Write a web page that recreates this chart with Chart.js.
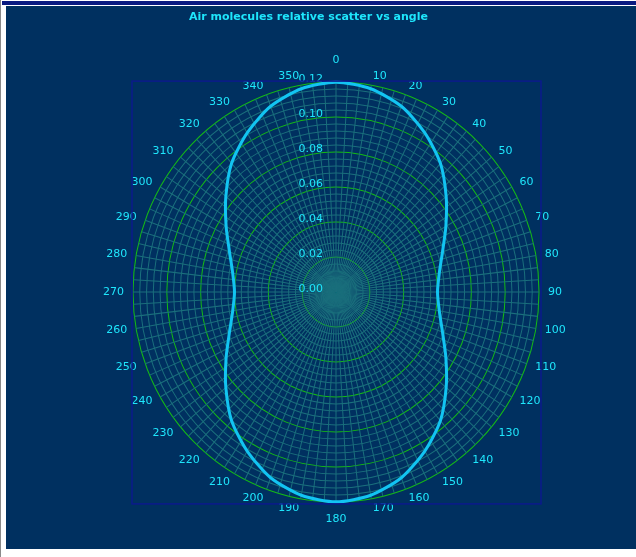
<!DOCTYPE html>
<html>
<head>
<meta charset="utf-8">
<script src="https://cdn.jsdelivr.net/npm/chart.js@4"></script>
<style>
  body { margin: 0; background: #fff; }
  #wrap { position: relative; width: 636px; height: 557px; overflow: hidden; }
  #edge { position: absolute; left: 0; top: 0; width: 1px; height: 557px; background: #8a8a8a; }
  #topline { position: absolute; left: 2px; top: 1px; width: 634px; height: 4px; background: #0a1a80; }
  #panel { position: absolute; left: 6px; top: 6px; width: 630px; height: 543px; background: #003060; }
  #title { position: absolute; left: 0; top: 10px; width: 617px; text-align: center;
           font: bold 11px 'DejaVu Sans', sans-serif; line-height: 13px; color: #1ee6fc; }
  canvas { position: absolute; left: 6px; top: 6px; }
</style>
</head>
<body>
<div id="wrap">
  <div id="edge"></div>
  <div id="topline"></div>
  <div id="panel"></div>
  <canvas id="scatterChart" width="630" height="543"></canvas>
  <div id="title">Air molecules relative scatter vs angle</div>
</div>
<script>
// Scattering angle (degrees) and relative scatter read at each labelled angle
const angleLabels = [0, 10, 20, 30, 40, 50, 60, 70, 80, 90, 100, 110, 120, 130, 140, 150, 160, 170,
                     180, 190, 200, 210, 220, 230, 240, 250, 260, 270, 280, 290, 300, 310, 320, 330, 340, 350];
const scatter = [0.120, 0.118, 0.113, 0.105, 0.096, 0.085, 0.075, 0.067, 0.062, 0.060, 0.062, 0.067,
                 0.075, 0.085, 0.096, 0.105, 0.113, 0.118, 0.120, 0.118, 0.113, 0.105, 0.096, 0.085,
                 0.075, 0.067, 0.062, 0.060, 0.062, 0.067, 0.075, 0.085, 0.096, 0.105, 0.113, 0.118];
const radialTicks = [0, 0.02, 0.04, 0.06, 0.08, 0.10, 0.12];

const spokesPerLabel = 3;   // grid spokes every 10/3 degrees
const stretchY = 1.034;     // plot is a little taller than wide
const labelColor = '#1ee6fc';
const labelFont = "11px 'DejaVu Sans', sans-serif";
const gridTeal = '#1a6f7c';
const gridGreen = '#14bc14';

// expand to one slot per spoke, data only on the labelled angles
const labels = [];
const values = [];
angleLabels.forEach((a, i) => {
    labels.push(String(a));
    values.push(scatter[i]);
    for (let k = 1; k < spokesPerLabel; k++) {
        labels.push('');
        values.push(null);
    }
});

// stretch grid + curve vertically, then frame and label on top
const polarDecor = {
    id: 'polarDecor',
    beforeDraw(chart) {
        const r = chart.scales.r;
        const ctx = chart.ctx;
        ctx.save();
        ctx.translate(r.xCenter, r.yCenter);
        ctx.scale(1, stretchY);
        ctx.translate(-r.xCenter, -r.yCenter);
    },
    afterDraw(chart) {
        const r = chart.scales.r;
        const ctx = chart.ctx;
        ctx.restore();

        const R = r.drawingArea;
        const cx = r.xCenter;
        const cy = r.yCenter;
        ctx.save();
        ctx.font = labelFont;
        ctx.fillStyle = labelColor;
        ctx.textBaseline = 'middle';

        labels.forEach((text, i) => {
            if (!text) return;
            const deg = angleLabels[i / spokesPerLabel];
            const p = r.getPointPosition(i, R + 9);
            let y = cy + (p.y - cy) * stretchY;
            if (deg === 0 || deg === 180) {
                ctx.textAlign = 'center';
                y += deg === 0 ? -13 : 8;
            } else {
                ctx.textAlign = deg < 180 ? 'left' : 'right';
            }
            ctx.fillText(text, p.x, y);
        });

        ctx.textAlign = 'right';
        radialTicks.forEach(v => {
            const d = r.getDistanceFromCenterForValue(v) * stretchY;
            ctx.fillText(v.toFixed(2), cx - 13, cy - d - 3);
        });

        ctx.strokeStyle = '#0b1a8c';
        ctx.lineWidth = 1.5;
        ctx.strokeRect(cx - R - 1, cy - R * stretchY - 1, 2 * R + 3, 2 * R * stretchY + 3);
        ctx.restore();
    }
};

const scatterChart = new Chart(document.getElementById('scatterChart'), {
    type: 'radar',
    data: {
        labels: labels,
        datasets: [{
            label: 'Relative scatter',
            data: values,
            borderColor: '#12c4f2',
            borderWidth: 3,
            pointRadius: 0,
            fill: false,
            tension: 0.25,
            spanGaps: true
        }]
    },
    options: {
        responsive: false,
        animation: false,
        devicePixelRatio: 1,
        layout: { padding: { left: 127, right: 97, top: 71, bottom: 42 } },
        plugins: {
            legend: { display: false },
            tooltip: { enabled: false }
        },
        scales: {
            r: {
                min: 0,
                max: 0.12,
                startAngle: 0,
                ticks: { display: false, stepSize: 0.004 },
                grid: {
                    circular: true,
                    lineWidth: 1,
                    color: ctx => (Math.round(ctx.tick.value * 1000) % 20 === 0 ? gridGreen : gridTeal)
                },
                angleLines: { color: gridTeal, lineWidth: 1 },
                pointLabels: { display: false }
            }
        }
    },
    plugins: [polarDecor]
});
</script>
</body>
</html>
